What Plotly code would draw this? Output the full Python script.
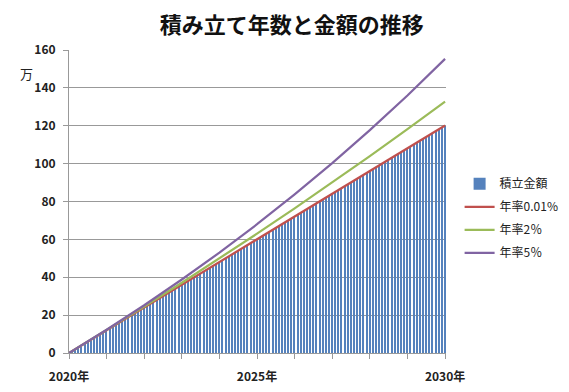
import plotly.graph_objects as go

# months since start (bars) and accumulated principal (万)
months = list(range(1, 121))
principal = [1, 2, 3, 4, 5, 6, 7, 8, 9, 10, 11, 12, 13, 14, 15, 16, 17, 18, 19, 20,
             21, 22, 23, 24, 25, 26, 27, 28, 29, 30, 31, 32, 33, 34, 35, 36, 37, 38, 39, 40,
             41, 42, 43, 44, 45, 46, 47, 48, 49, 50, 51, 52, 53, 54, 55, 56, 57, 58, 59, 60,
             61, 62, 63, 64, 65, 66, 67, 68, 69, 70, 71, 72, 73, 74, 75, 76, 77, 78, 79, 80,
             81, 82, 83, 84, 85, 86, 87, 88, 89, 90, 91, 92, 93, 94, 95, 96, 97, 98, 99, 100,
             101, 102, 103, 104, 105, 106, 107, 108, 109, 110, 111, 112, 113, 114, 115, 116, 117, 118, 119, 120]

# yearly sample points for the lines
line_months = [0, 12, 24, 36, 48, 60, 72, 84, 96, 108, 120]
rate_001 = [0, 12.0, 24.0, 36.0, 48.0, 60.0, 72.0, 84.0, 96.0, 108.1, 120.1]
rate_2 = [0, 12.1, 24.5, 37.1, 49.9, 63.0, 76.4, 90.1, 104.0, 118.2, 132.7]
rate_5 = [0, 12.3, 25.2, 38.8, 53.0, 68.0, 83.8, 100.3, 117.7, 136.0, 155.3]

tick_vals = [0, 12, 24, 36, 48, 60, 72, 84, 96, 108, 120]
tick_text = ["2020年", "", "", "", "", "2025年", "", "", "", "", "2030年"]

title_text = "積み立て年数と金額の推移"
unit_text = "万"

FONT = "Noto Sans CJK JP"

fig = go.Figure()
fig.add_trace(go.Bar(x=months, y=principal, name="積立金額", width=0.42, legendgroup="a",
                     marker=dict(color="#5582bd", line=dict(width=0))))
fig.add_trace(go.Scatter(x=line_months, y=rate_001, mode="lines", name="年率0.01%",
                         legendgroup="b", line=dict(color="#c0504d", width=2.2)))
fig.add_trace(go.Scatter(x=line_months, y=rate_2, mode="lines", name="年率2％",
                         legendgroup="c", line=dict(color="#9bbb59", width=2.2)))
fig.add_trace(go.Scatter(x=line_months, y=rate_5, mode="lines", name="年率5％",
                         legendgroup="d", line=dict(color="#8064a2", width=2.2)))

fig.update_layout(
    width=561, height=384,
    margin=dict(l=61, r=123, t=42, b=39, autoexpand=False),
    paper_bgcolor="white", plot_bgcolor="white",
    font=dict(family=FONT, size=12, color="#222"),
    title=dict(text="<b>" + title_text + "</b>", x=0.506, xanchor="center",
               y=0.955, yanchor="middle", font=dict(family=FONT, size=22, color="#111")),
    showlegend=True,
    legend=dict(xref="container", yref="container", x=0.805, y=0.58,
                xanchor="left", yanchor="top",
                font=dict(family=FONT, size=12, color="#222"),
                bgcolor="rgba(0,0,0,0)", tracegroupgap=4, itemwidth=30),
    bargap=0,
    xaxis=dict(range=[0, 120.3], tickmode="array", tickvals=tick_vals, ticktext=tick_text,
               showgrid=False, showline=True, linecolor="#999", linewidth=1,
               ticks="outside", ticklen=5, tickcolor="#999", ticklabelstandoff=8,
               tickfont=dict(family=FONT, size=12, color="#222", weight="bold"),
               zeroline=False, automargin=False),
    yaxis=dict(range=[0, 160], dtick=20, showgrid=True, gridcolor="#999", gridwidth=1,
               showline=True, linecolor="#999", linewidth=1,
               ticks="outside", ticklen=5, tickcolor="#999", ticklabelstandoff=5,
               tickfont=dict(family=FONT, size=12, color="#222", weight="bold"),
               zeroline=False, automargin=False),
    annotations=[dict(text=unit_text, xref="paper", yref="paper", x=-0.135, y=0.96,
                      showarrow=False, font=dict(family=FONT, size=13, color="#222"))],
)

fig.write_html("out.html")
